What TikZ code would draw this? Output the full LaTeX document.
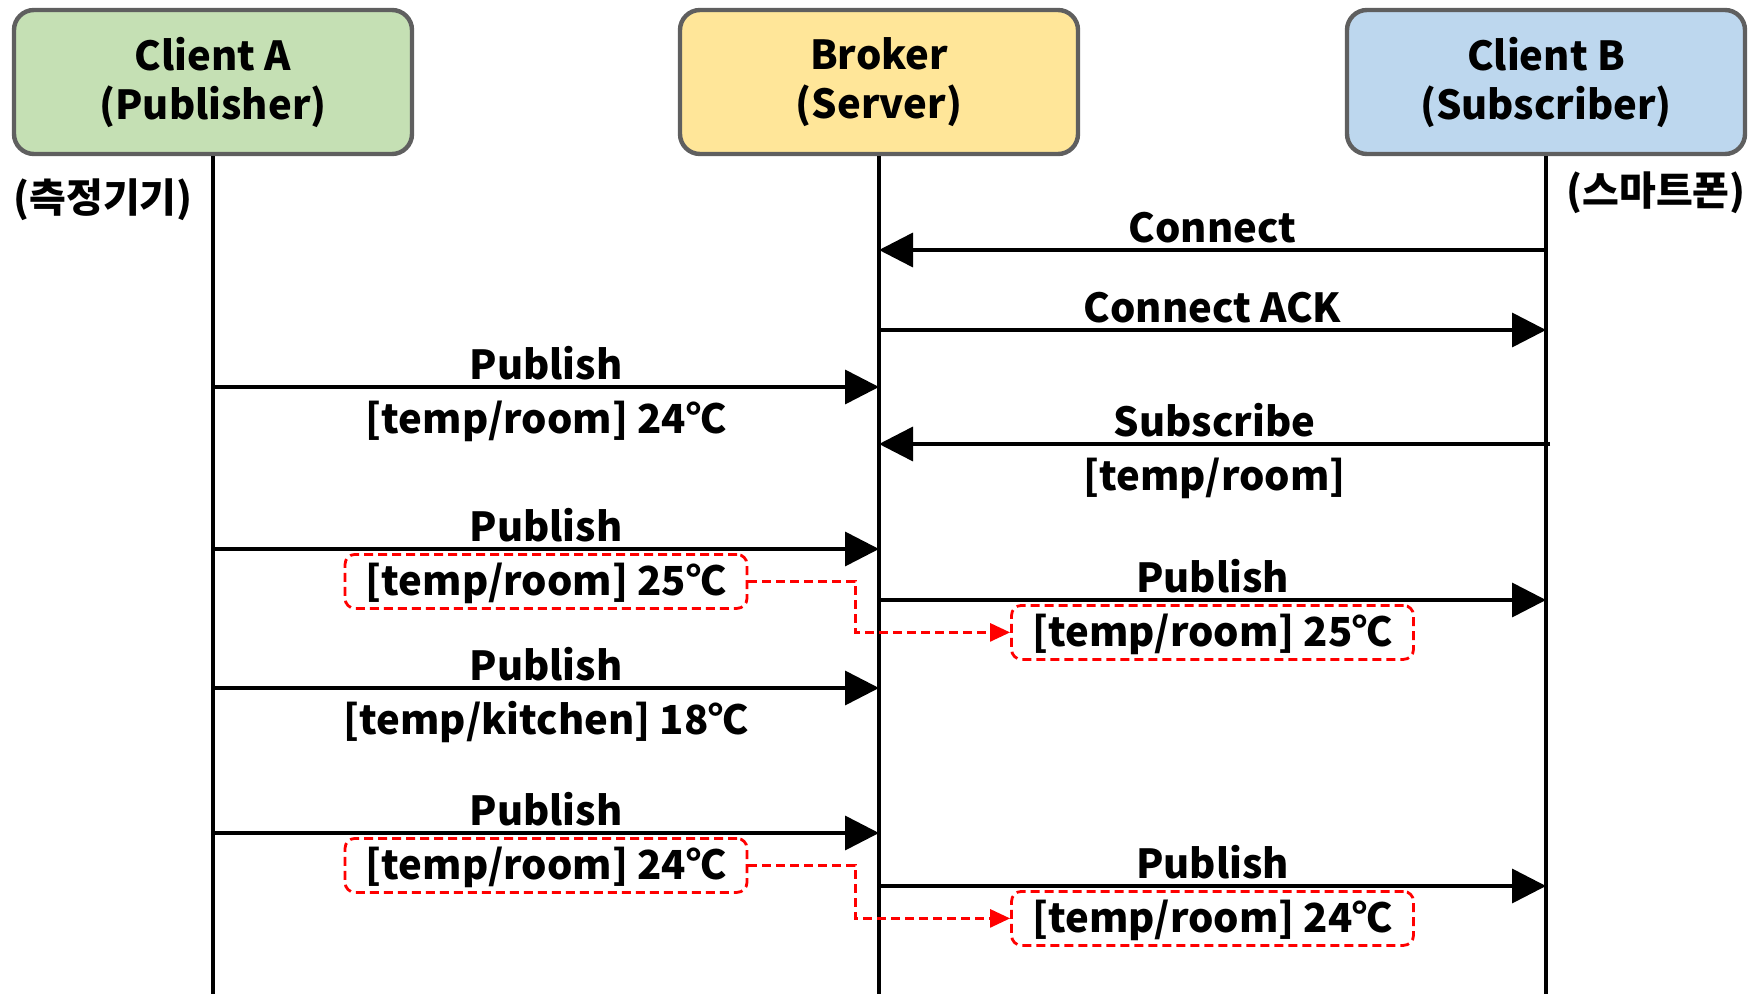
\documentclass[tikz,border=0pt]{standalone}
\usepackage{fontspec}
\setmainfont{Noto Sans CJK KR}
\usepackage{tikz}
\usetikzlibrary{arrows.meta}

\definecolor{pubgreen}{HTML}{C5E0B4}
\definecolor{brokeryellow}{HTML}{FFE699}
\definecolor{subblue}{HTML}{BDD7EE}
\definecolor{edgegray}{HTML}{5F5F5F}

\begin{document}
\begin{tikzpicture}[x=0.5pt,y=-0.5pt,
  font=\fontsize{20}{24.5}\selectfont\bfseries,
  actor/.style={draw=edgegray, line width=2.2pt, rounded corners=10pt,
    minimum width=199pt, minimum height=72pt, align=center},
  life/.style={line width=1.8pt},
  msg/.style={line width=1.8pt, -{Triangle[length=17pt,width=17pt]}},
  lbl/.style={inner sep=0pt, text height=15pt, text depth=0pt},
  topic/.style={inner xsep=6pt, inner ysep=3.5pt, text height=17pt,
    text depth=3pt, minimum width=201pt},
  topicbox/.style={topic, draw=red, dash pattern=on 4.5pt off 2.5pt,
    line width=1.4pt, rounded corners=5pt},
  fwd/.style={red, line width=1.4pt, dash pattern=on 4.5pt off 2.5pt,
    -{Triangle[length=10pt,width=9pt]}}]

\useasboundingbox (0,0) rectangle (1750,994);

% actors
\node[actor, fill=pubgreen] (clientA) at (213,82) {Client A\\(Publisher)};
\node[actor, fill=brokeryellow] (broker) at (879,82) {Broker\\(Server)};
\node[actor, fill=subblue] (clientB) at (1546,82) {Client B\\(Subscriber)};

\node (devA) at (103,200) {(측정기기)};
\node (devB) at (1656,193) {(스마트폰)};

% lifelines
\draw[life] (clientA.south) -- (clientA.south |- 0,994);
\draw[life] (broker.south) -- (broker.south |- 0,994);
\draw[life] (clientB.south) -- (clientB.south |- 0,994);

% messages
\draw[msg] (clientB |- 0,250) -- node[lbl, above=3pt] (connect) {Connect} (broker |- 0,250);
\draw[msg] (broker |- 0,330) -- node[lbl, above=3pt] (connack) {Connect ACK} (clientB |- 0,330);

\draw[msg] (clientA |- 0,387) -- node[lbl, above=3pt] (pub1) {Publish}
  node[topic, below=2pt] (t1) {[temp/room] 24℃} (broker |- 0,387);
\draw[msg] ([xshift=2pt]clientB |- 0,444) -- node[lbl, above=3pt] (sub) {Subscribe}
  node[topic, below=2pt] (tsub) {[temp/room]} (broker |- 0,444);

\draw[msg] (clientA |- 0,549) -- node[lbl, above=3pt] (pub2) {Publish}
  node[topicbox, below=2pt] (t2) {[temp/room] 25℃} (broker |- 0,549);
\draw[msg] (broker |- 0,600) -- node[lbl, above=3pt] (fw2) {Publish}
  node[topicbox, below=2pt] (t2b) {[temp/room] 25℃} (clientB |- 0,600);
\draw[fwd] (t2.east) -- ++(107,0) |- (t2b.west);

\draw[msg] (clientA |- 0,688) -- node[lbl, above=3pt] (pub3) {Publish}
  node[topic, below=2pt] (t3) {[temp/kitchen] 18℃} (broker |- 0,688);

\draw[msg] (clientA |- 0,833) -- node[lbl, above=3pt] (pub4) {Publish}
  node[topicbox, below=2pt] (t4) {[temp/room] 24℃} (broker |- 0,833);
\draw[msg] (broker |- 0,886) -- node[lbl, above=3pt] (fw4) {Publish}
  node[topicbox, below=2pt] (t4b) {[temp/room] 24℃} (clientB |- 0,886);
\draw[fwd] (t4.east) -- ++(107,0) |- (t4b.west);

\end{tikzpicture}
\end{document}
